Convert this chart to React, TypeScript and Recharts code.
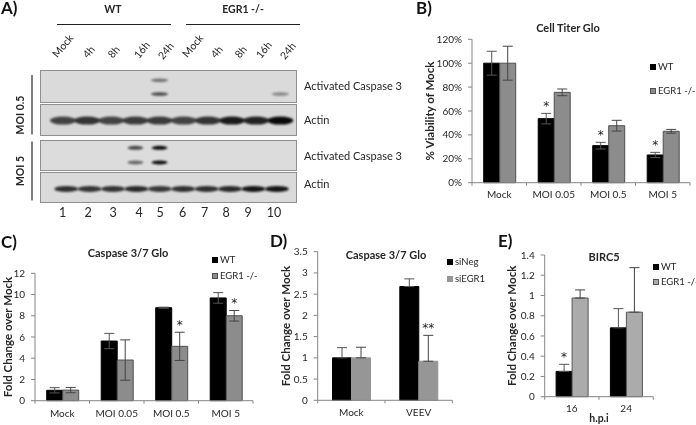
import React from 'react';
import { BarChart, Bar, XAxis, YAxis, ErrorBar, LabelList, Legend, ScatterChart, Scatter } from 'recharts';

// Panel B
const viabilityGroups = ['Mock', 'MOI 0.05', 'MOI 0.5', 'MOI 5'];
const viabilityWt = [100, 53.6, 31, 23.2];
const viabilityWtErr = [10, 4.4, 2.8, 2.2];
const viabilityKo = [100, 75.6, 47.7, 43];
const viabilityKoErr = [14.2, 2.8, 4.5, 1.6];
const viabilityWtStars = ['', '*', '*', '*'];
const viabilityTicks = [0, 20, 40, 60, 80, 100, 120];

// Panel C
const caspaseGroups = ['Mock', 'MOI 0.05', 'MOI 0.5', 'MOI 5'];
const caspaseWt = [0.98, 5.62, 8.76, 9.68];
const caspaseWtErr = [0.25, 0.72, 0.05, 0.5];
const caspaseKo = [1, 3.83, 5.12, 8];
const caspaseKoErr = [0.25, 1.9, 1.33, 0.5];
const caspaseKoStars = ['', '', '*', '*'];
const caspaseTicks = [0, 2, 4, 6, 8, 10, 12];

// Panel D
const sirnaGroups = ['Mock', 'VEEV'];
const sirnaNeg = [1, 2.68];
const sirnaNegErr = [0.24, 0.18];
const sirnaEgr = [1, 0.92];
const sirnaEgrErr = [0.25, 0.61];
const sirnaEgrStars = ['', '**'];
const sirnaTicks = [0, 0.5, 1, 1.5, 2, 2.5, 3, 3.5];

// Panel E
const bircGroups = ['16', '24'];
const bircWt = [0.25, 0.68];
const bircWtErr = [0.07, 0.19];
const bircKo = [0.975, 0.835];
const bircKoErr = [0.08, 0.44];
const bircWtStars = ['*', ''];
const bircTicks = [0, 0.2, 0.4, 0.6, 0.8, 1, 1.2, 1.4];

// Panel A, band strength per lane
const lanes = [1, 2, 3, 4, 5, 6, 7, 8, 9, 10];
const laneLabels = ['Mock', '4h', '8h', '16h', '24h', 'Mock', '4h', '8h', '16h', '24h'];
const moi05CleavedUpper = [0, 0, 0, 0, 0.5, 0, 0, 0, 0, 0];
const moi05CleavedLower = [0, 0, 0, 0, 0.7, 0, 0, 0, 0, 0.4];
const moi05Actin = [0.72, 0.8, 0.72, 0.76, 0.76, 0.72, 0.8, 0.92, 0.88, 1];
const moi5CleavedUpper = [0, 0, 0, 0.7, 1, 0, 0, 0, 0, 0];
const moi5CleavedLower = [0, 0, 0, 0.55, 1, 0, 0, 0, 0, 0];
const moi5Actin = [0.82, 0.8, 0.8, 0.85, 0.78, 0.82, 0.82, 0.85, 0.95, 0.95];

const FONT = 'Lato, "Open Sans", sans-serif';
const AXIS = '#868686';
const TEXT = '#262626';

const laneLabelPos = [[63, 46], [89, 52], [114, 52], [142, 50], [166, 51], [193, 46], [217, 52], [241, 52], [264, 50], [288, 51]];
const laneNumberX = [62.7, 88, 113, 139, 160, 182.7, 204.7, 226, 248, 274];

const toRows = (groups: string[], a: number[], aErr: number[], b: number[], bErr: number[], upperOnly: boolean) =>
  groups.map((group, i) => ({
    group,
    a: a[i],
    b: b[i],
    aErr: upperOnly ? [0, aErr[i]] : aErr[i],
    bErr: upperOnly ? [0, bErr[i]] : bErr[i],
  }));

// excel style category axis: tick marks sit between the groups
const categoryTick = (halfBand: number, labelDy: number) => (props: any) => {
  const { x, y, payload, index, visibleTicksCount } = props;
  return (
    <g>
      <line x1={x - halfBand} x2={x - halfBand} y1={y} y2={y + 3} stroke={AXIS} />
      {index === visibleTicksCount - 1 && <line x1={x + halfBand} x2={x + halfBand} y1={y} y2={y + 3} stroke={AXIS} />}
      <text x={x} y={y + labelDy} textAnchor="middle" fontFamily={FONT} fontSize={10} fill={TEXT}>{payload.value}</text>
    </g>
  );
};

// star sits a fixed distance above the top of the error bar
const starLabel = (values: number[], errors: number[]) => (props: any) => {
  const { x, y, width, height, value, index } = props;
  if (!value) return null;
  const errPx = (height / values[index]) * errors[index];
  return (
    <text x={x + width / 2} y={y - errPx - 3} textAnchor="middle" fontFamily="'DejaVu Sans'" fontSize={12} fill="#222">{value}</text>
  );
};

const legendContent = (left: number, top: number, gap: number, swatch: number) => (props: any) => (
  <div style={{ position: 'relative' }}>
    {props.payload.map((entry: any, i: number) => (
      <div key={entry.value} style={{ position: 'absolute', left, top: top + i * gap, whiteSpace: 'nowrap', fontFamily: FONT, fontSize: 9.5, lineHeight: '12px', color: TEXT }}>
        <span style={{ display: 'inline-block', boxSizing: 'border-box', width: swatch, height: swatch, marginRight: 2, background: entry.payload.fill, border: `1px solid ${entry.payload.stroke}` }} />
        {entry.value}
      </div>
    ))}
  </div>
);

interface PanelProps {
  box: { left: number; top: number; width: number; height: number };
  rows: any[];
  aName: string;
  bName: string;
  bFill: string;
  bStroke: string;
  ticks: number[];
  domainMax: number;
  title: string;
  titleX: number;
  titleY: number;
  yLabel: string;
  yLabelOffset: number;
  yWidth: number;
  xHeight: number;
  marginTop: number;
  marginRight: number;
  gapPct: string;
  labelDy: number;
  formatY?: (v: number) => string;
  legend: (props: any) => React.ReactNode;
  aStars?: { text: string[]; values: number[]; errors: number[] };
  bStars?: { text: string[]; values: number[]; errors: number[] };
}

const Panel: React.FC<PanelProps> = (p) => {
  const plotWidth = p.box.width - p.yWidth - p.marginRight;
  const halfBand = plotWidth / p.rows.length / 2;
  const rows = p.rows.map((r, i) => ({ ...r, aStar: p.aStars?.text[i] ?? '', bStar: p.bStars?.text[i] ?? '' }));
  return (
    <div style={{ position: 'absolute', left: p.box.left, top: p.box.top }}>
      <BarChart
        width={p.box.width}
        height={p.box.height}
        data={rows}
        margin={{ left: 0, right: p.marginRight, top: p.marginTop, bottom: 0 }}
        barCategoryGap={p.gapPct}
        barGap={0}
      >
        <XAxis dataKey="group" height={p.xHeight} stroke={AXIS} tickLine={false} tickSize={0} tickMargin={0} interval={0} tick={categoryTick(halfBand, p.labelDy)} />
        <YAxis
          width={p.yWidth}
          domain={[0, p.domainMax]}
          ticks={p.ticks}
          interval={0}
          stroke={AXIS}
          tickSize={4}
          tickMargin={6}
          tick={{ fill: TEXT, fontSize: 10, fontFamily: FONT }}
          tickFormatter={p.formatY}
          label={{ value: p.yLabel, angle: -90, position: 'insideLeft', offset: p.yLabelOffset, style: { textAnchor: 'middle', fontFamily: FONT, fontWeight: 700, fontSize: 11.5, fill: TEXT } }}
        />
        <Legend layout="vertical" align="center" verticalAlign="top" itemSorter={null} wrapperStyle={{ left: 0, top: 0, width: 0, height: 0 }} content={p.legend} />
        <Bar dataKey="a" name={p.aName} fill="#000000" stroke="#000000" isAnimationActive={false}>
          <ErrorBar dataKey="aErr" width={5} stroke="#555555" strokeWidth={1} isAnimationActive={false} />
          {p.aStars && <LabelList dataKey="aStar" content={starLabel(p.aStars.values, p.aStars.errors)} />}
        </Bar>
        <Bar dataKey="b" name={p.bName} fill={p.bFill} stroke={p.bStroke} isAnimationActive={false}>
          <ErrorBar dataKey="bErr" width={5} stroke="#444444" strokeWidth={1} isAnimationActive={false} />
          {p.bStars && <LabelList dataKey="bStar" content={starLabel(p.bStars.values, p.bStars.errors)} />}
        </Bar>
        <text x={p.titleX} y={p.titleY} textAnchor="middle" fontFamily={FONT} fontWeight={700} fontSize={11} fill={TEXT}>{p.title}</text>
      </BarChart>
    </div>
  );
};

const bandShape = (width: number, height: number, blur: number) => (props: any) => {
  const { cx, cy, payload } = props;
  if (!payload.strength) return <g />;
  return (
    <ellipse cx={cx} cy={cy} rx={width / 2} ry={height / 2} fill="#0a0a0a" opacity={payload.strength} style={{ filter: `blur(${blur}px)` }} />
  );
};

interface StripProps {
  top: number;
  height: number;
  laneDomain: [number, number];
  background: string;
  rows: { row: number; strengths: number[] }[];
  bandWidth: number;
  bandHeight: number;
}

// one blot membrane: lanes along x, band row (0 top, 1 bottom) along y
const BlotStrip: React.FC<StripProps> = ({ top, height, laneDomain, background, rows, bandWidth, bandHeight }) => (
  <div style={{ position: 'absolute', left: 41, top, width: 255, height, background, outline: '1px solid #8f8f8f' }}>
    <ScatterChart width={255} height={height} margin={{ left: 0, right: 0, top: 0, bottom: 0 }}>
      <XAxis type="number" dataKey="lane" domain={laneDomain} allowDataOverflow hide />
      <YAxis type="number" dataKey="row" domain={[0, 1]} reversed hide />
      {rows.map((r) => (
        <Scatter
          key={r.row}
          data={lanes.map((lane, i) => ({ lane, row: r.row, strength: r.strengths[i] }))}
          shape={bandShape(bandWidth, bandHeight, 1)}
          isAnimationActive={false}
        />
      ))}
    </ScatterChart>
  </div>
);

const App: React.FC = () => (
  <div style={{ position: 'absolute', left: 0, top: 0, width: 696, height: 425, background: '#fff', overflow: 'hidden', filter: 'blur(0.35px)' }}>
    <BlotStrip top={70.5} height={31} laneDomain={[0.09, 10.65]} background="#dadada" bandWidth={17} bandHeight={3.5}
      rows={[{ row: 0.3, strengths: moi05CleavedUpper }, { row: 0.74, strengths: moi05CleavedLower }]} />
    <BlotStrip top={105} height={30} laneDomain={[0.09, 10.65]} background="#d8d8d8" bandWidth={26} bandHeight={8}
      rows={[{ row: 0.52, strengths: moi05Actin }]} />
    <BlotStrip top={141} height={28.5} laneDomain={[0.09, 10.65]} background="#dcdcdc" bandWidth={16} bandHeight={4}
      rows={[{ row: 0.24, strengths: moi5CleavedUpper }, { row: 0.75, strengths: moi5CleavedLower }]} />
    <BlotStrip top={173} height={28.5} laneDomain={[-0.08, 10.82]} background="#dadada" bandWidth={24} bandHeight={6}
      rows={[{ row: 0.56, strengths: moi5Actin }]} />

    <Panel
      box={{ left: 410, top: 20, width: 286, height: 190 }}
      rows={toRows(viabilityGroups, viabilityWt, viabilityWtErr, viabilityKo, viabilityKoErr, false)}
      aName="WT" bName="EGR1 -/-" bFill="#8c8c8c" bStroke="#505050"
      ticks={viabilityTicks} domainMax={120} formatY={(v) => `${v}%`}
      title="Cell Titer Glo" titleX={158} titleY={12}
      yLabel="% Viability of Mock" yLabelOffset={20} yWidth={62} xHeight={27.3} marginTop={19.3} marginRight={6}
      gapPct="21.5%" labelDy={15}
      legend={legendContent(240, 41, 24, 6)}
      aStars={{ text: viabilityWtStars, values: viabilityWt, errors: viabilityWtErr }}
    />
    <Panel
      box={{ left: 0, top: 240, width: 260, height: 185 }}
      rows={toRows(caspaseGroups, caspaseWt, caspaseWtErr, caspaseKo, caspaseKoErr, false)}
      aName="WT" bName="EGR1 -/-" bFill="#8c8c8c" bStroke="#505050"
      ticks={caspaseTicks} domainMax={12}
      title="Caspase 3/7 Glo" titleX={128} titleY={17}
      yLabel="Fold Change over Mock" yLabelOffset={7.5} yWidth={35} xHeight={24.3} marginTop={33.3} marginRight={7}
      gapPct="21.5%" labelDy={16}
      legend={legendContent(212, 14, 15.5, 6)}
      bStars={{ text: caspaseKoStars, values: caspaseKo, errors: caspaseKoErr }}
    />
    <Panel
      box={{ left: 265, top: 235, width: 225, height: 190 }}
      rows={toRows(sirnaGroups, sirnaNeg, sirnaNegErr, sirnaEgr, sirnaEgrErr, true)}
      aName="siNeg" bName="siEGR1" bFill="#969696" bStroke="#969696"
      ticks={sirnaTicks} domainMax={3.5}
      title="Caspase 3/7 Glo" titleX={121} titleY={24}
      yLabel="Fold Change over Mock" yLabelOffset={21} yWidth={52.7} xHeight={24.7} marginTop={16.7} marginRight={37.7}
      gapPct="22%" labelDy={15.5}
      legend={legendContent(182, 21, 16.5, 6)}
      bStars={{ text: sirnaEgrStars, values: sirnaEgr, errors: sirnaEgrErr }}
    />
    <Panel
      box={{ left: 495, top: 240, width: 201, height: 185 }}
      rows={toRows(bircGroups, bircWt, bircWtErr, bircKo, bircKoErr, true)}
      aName="WT" bName="EGR1 -/-" bFill="#ababab" bStroke="#555555"
      ticks={bircTicks} domainMax={1.4}
      title="BIRC5" titleX={109} titleY={21}
      yLabel="Fold Change over Mock" yLabelOffset={16.7} yWidth={49.7} xHeight={28.3} marginTop={15} marginRight={42.7}
      gapPct="21%" labelDy={15}
      legend={legendContent(158, 21, 15, 6)}
      aStars={{ text: bircWtStars, values: bircWt, errors: bircWtErr }}
    />

    <svg width={696} height={425} style={{ position: 'absolute', left: 0, top: 0, pointerEvents: 'none' }} fontFamily={FONT} fill={TEXT}>
      <g fontSize={17} fontWeight={700} fill="#111">
        <text x={1} y={14}>A)</text>
        <text x={416} y={14}>B)</text>
        <text x={1} y={248}>C)</text>
        <text x={270} y={247}>D)</text>
        <text x={498} y={247}>E)</text>
      </g>
      <g fontSize={10.5} fontWeight={700} textAnchor="middle">
        <text x={113} y={13}>WT</text>
        <text x={243} y={13}>EGR1 -/-</text>
        <text x={599} y={422}>h.p.i</text>
      </g>
      <line x1={57} x2={171} y1={24.5} y2={24.5} stroke="#222" />
      <line x1={186} x2={300} y1={24.5} y2={24.5} stroke="#222" />
      {laneLabels.map((label, i) => (
        <text key={i} x={laneLabelPos[i][0]} y={laneLabelPos[i][1] + 3.5} fontSize={10.5} textAnchor="middle"
          transform={`rotate(-50 ${laneLabelPos[i][0]} ${laneLabelPos[i][1]})`}>{label}</text>
      ))}
      {lanes.map((lane, i) => (
        <text key={lane} x={laneNumberX[i]} y={217} fontSize={12.5} textAnchor="middle">{lane}</text>
      ))}
      <line x1={32} x2={32} y1={75} y2={134.5} stroke="#555" strokeWidth={1.5} />
      <line x1={32} x2={32} y1={141.5} y2={200.5} stroke="#555" strokeWidth={1.5} />
      <g fontSize={10.5} fontWeight={700} textAnchor="middle">
        <text x={24} y={115} transform="rotate(-90 24 115)">MOI 0.5</text>
        <text x={24} y={171} transform="rotate(-90 24 171)">MOI 5</text>
      </g>
      <g fontSize={11}>
        <text x={304} y={89.5}>Activated Caspase 3</text>
        <text x={304} y={123.5}>Actin</text>
        <text x={304} y={159.5}>Activated Caspase 3</text>
        <text x={304} y={188}>Actin</text>
      </g>
    </svg>
  </div>
);

export default App;
